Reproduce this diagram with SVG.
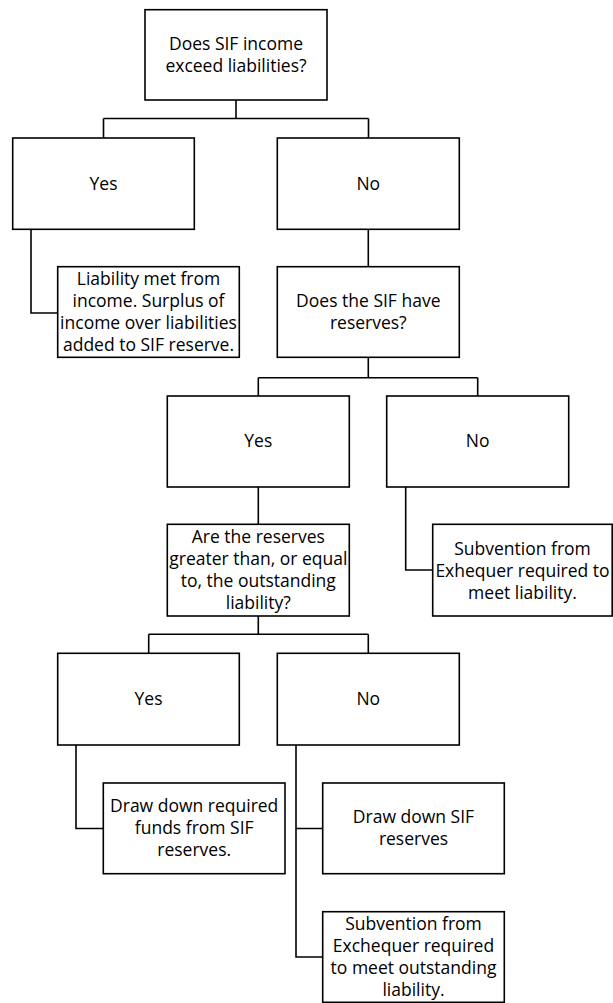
<svg xmlns="http://www.w3.org/2000/svg" width="613" height="1003" viewBox="0 0 613 1003">
<style>
rect{fill:#fff;stroke:#000;stroke-width:1.6}
text{font-family:"Open Sans","Liberation Sans",sans-serif;font-size:17.5px;fill:#000;text-anchor:middle}
#connectors path{fill:none;stroke:#000;stroke-width:1.6}
</style>
<rect x="0" y="0" width="613" height="1003" style="fill:#fff;stroke:none"/>
<g id="connectors">
<path d="M236,100 V118.5 M103.5,118.5 H368.5 M103.5,118.5 V138 M368.5,118.5 V138"/>
<path d="M31,229.3 V313 H57.7"/>
<path d="M368.3,229.3 V266.7"/>
<path d="M368.3,357.3 V377.7 M258.3,377.7 H477.7 M258.3,377.7 V396 M477.7,377.7 V396"/>
<path d="M258.3,487 V524.3"/>
<path d="M405.7,487 V570 H432.7"/>
<path d="M258.3,616 V634.3 M148.7,634.3 H368.3 M148.7,634.3 V653.3 M368.3,634.3 V653.3"/>
<path d="M76,745 V828.5 H103.3"/>
<path d="M296,745 V957 H322.7 M296,828.5 H322.7"/>
</g>
<g id="q1"><rect x="145" y="9.7" width="182" height="90.3"/><text x="236" y="50">Does SIF income</text><text x="236" y="72">exceed liabilities?</text></g>
<g id="yes1"><rect x="12.7" y="138" width="181.6" height="91.3"/><text x="103.5" y="189.5">Yes</text></g>
<g id="no1"><rect x="277.3" y="138" width="182" height="91.3"/><text x="368.3" y="189.5">No</text></g>
<g id="met"><rect x="57.7" y="266.7" width="181.6" height="90.6"/><text x="148.5" y="285">Liability met from</text><text x="148.5" y="307">income. Surplus of</text><text x="148.5" y="329">income over liabilities</text><text x="148.5" y="351">added to SIF reserve.</text></g>
<g id="q2"><rect x="277.3" y="266.7" width="182" height="90.6"/><text x="368.3" y="307">Does the SIF have</text><text x="368.3" y="329">reserves?</text></g>
<g id="yes2"><rect x="167.3" y="396" width="182" height="91"/><text x="258.3" y="447">Yes</text></g>
<g id="no2"><rect x="386.7" y="396" width="182" height="91"/><text x="477.7" y="447">No</text></g>
<g id="q3"><rect x="167.3" y="524.3" width="182" height="91.7"/><text x="258.3" y="543">Are the reserves</text><text x="258.3" y="565">greater than, or equal</text><text x="258.3" y="587">to, the outstanding</text><text x="258.3" y="609">liability?</text></g>
<g id="subv1"><rect x="432.7" y="524.3" width="179.5" height="91.7"/><text x="522.5" y="554.5">Subvention from</text><text x="522.5" y="576.5">Exhequer required to</text><text x="522.5" y="598.5">meet liability.</text></g>
<g id="yes3"><rect x="57.7" y="653.3" width="181.6" height="91.7"/><text x="148.5" y="705">Yes</text></g>
<g id="no3"><rect x="277.3" y="653.3" width="182" height="91.7"/><text x="368.3" y="705">No</text></g>
<g id="draw1"><rect x="103.3" y="783" width="181.7" height="90.7"/><text x="194.2" y="811.5">Draw down required</text><text x="194.2" y="833.5">funds from SIF</text><text x="194.2" y="855.5">reserves.</text></g>
<g id="draw2"><rect x="322.7" y="783" width="181.6" height="90.7"/><text x="413.5" y="822.5">Draw down SIF</text><text x="413.5" y="844.5">reserves</text></g>
<g id="subv2"><rect x="322.7" y="911.7" width="181.6" height="90.6"/><text x="413.5" y="929.5">Subvention from</text><text x="413.5" y="951.5">Exchequer required</text><text x="413.5" y="973.5">to meet outstanding</text><text x="413.5" y="995.5">liability.</text></g>
</svg>
